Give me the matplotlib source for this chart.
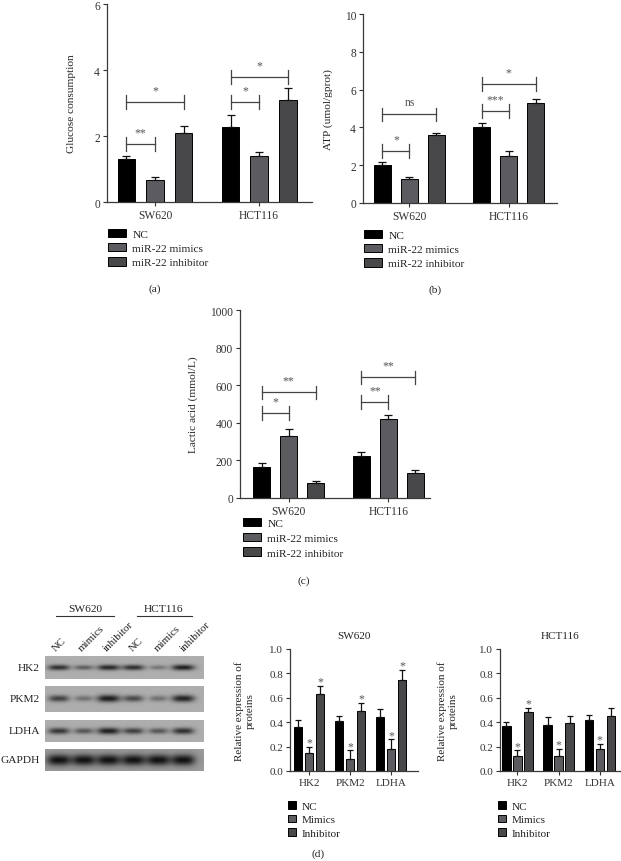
import numpy as np
import matplotlib
matplotlib.use('Agg')
import matplotlib.pyplot as plt
from matplotlib.lines import Line2D
from matplotlib.patches import Patch

# Dados
grupos = ['SW620', 'HCT116']
series_mir = ['NC', 'miR-22 mimics', 'miR-22 inhibitor']
series_prot = ['NC', 'Mimics', 'Inhibitor']
proteinas = ['HK2', 'PKM2', 'LDHA']

glicose_media = [[1.30, 0.67, 2.10], [2.28, 1.38, 3.10]]
glicose_erro = [[0.10, 0.10, 0.20], [0.35, 0.15, 0.35]]
glicose_sig = [(0, 0, 1, 1.76, '**'), (0, 0, 2, 3.03, '*'),
               (1, 0, 1, 3.03, '*'), (1, 0, 2, 3.78, '*')]

atp_media = [[2.00, 1.25, 3.58], [4.03, 2.48, 5.30]]
atp_erro = [[0.15, 0.12, 0.10], [0.20, 0.25, 0.20]]
atp_sig = [(0, 0, 1, 2.75, '*'), (0, 0, 2, 4.70, 'ns'),
           (1, 0, 1, 4.87, '***'), (1, 0, 2, 6.30, '*')]

lactico_media = [[165, 330, 80], [225, 422, 133]]
lactico_erro = [[20, 35, 10], [22, 22, 15]]
lactico_sig = [(0, 0, 1, 452, '*'), (0, 0, 2, 563, '**'),
               (1, 0, 1, 511, '**'), (1, 0, 2, 643, '**')]

# linhas = proteinas, colunas = NC, Mimics, Inhibitor
sw620_media = [[0.36, 0.15, 0.63], [0.41, 0.10, 0.49], [0.44, 0.18, 0.75]]
sw620_erro = [[0.06, 0.05, 0.07], [0.04, 0.07, 0.07], [0.07, 0.08, 0.08]]
sw620_estrela = [[False, True, True], [False, True, True], [False, True, True]]

hct116_media = [[0.37, 0.12, 0.48], [0.38, 0.12, 0.39], [0.42, 0.18, 0.45]]
hct116_erro = [[0.03, 0.05, 0.04], [0.06, 0.06, 0.06], [0.04, 0.04, 0.07]]
hct116_estrela = [[False, True, True], [False, True, False], [False, True, False]]

# Western blot: intensidade relativa das bandas (6 pistas)
blot_linhas = ['HK2', 'PKM2', 'LDHA', 'GAPDH']
blot_pistas = ['NC', 'mimics', 'inhibitor', 'NC', 'mimics', 'inhibitor']
blot_intensidade = [
    [0.80, 0.50, 0.85, 0.80, 0.35, 0.90],
    [0.70, 0.40, 0.95, 0.65, 0.40, 0.90],
    [0.75, 0.55, 0.90, 0.70, 0.55, 0.80],
    [1.00, 1.00, 1.00, 1.00, 1.00, 1.00],
]

cores = ['#000000', '#5b5b60', '#48484b']
W, H = 621, 862

plt.rcParams['font.family'] = ['Liberation Serif', 'DejaVu Serif']
plt.rcParams['text.color'] = '#222222'
plt.rcParams['axes.labelcolor'] = '#222222'
plt.rcParams['xtick.color'] = '#333333'
plt.rcParams['ytick.color'] = '#333333'

fig = plt.figure(figsize=(W / 100, H / 100), dpi=100)


def eixo_px(esq, topo, dir, base):
    # Cria um eixo a partir de coordenadas em pixels da figura
    return fig.add_axes([esq / W, 1 - base / H, (dir - esq) / W, (base - topo) / H])


def texto_px(x, y, s, **kw):
    fig.text(x / W, 1 - y / H, s, **kw)


def estilo_eixo(ax, tam):
    for lado in ['top', 'right']:
        ax.spines[lado].set_visible(False)
    for lado in ['left', 'bottom']:
        ax.spines[lado].set_color('#3a3a3a')
        ax.spines[lado].set_linewidth(0.9)
    ax.tick_params(length=3, width=0.8, labelsize=tam, pad=2)


def plotar_barras(ax, media, erro, centros, largura, capsize):
    media = np.array(media)
    erro = np.array(erro)
    for j in range(media.shape[1]):
        x = np.array(centros) + (j - 1)
        ax.bar(x, media[:, j], largura, color=cores[j], edgecolor='black', linewidth=0.7,
               yerr=[np.zeros(len(x)), erro[:, j]],
               error_kw=dict(ecolor='#111111', elinewidth=0.9, capsize=capsize, capthick=0.9),
               zorder=2)


def plotar_colchetes(ax, centros, sig, h):
    for g, i, j, y, txt in sig:
        x1 = centros[g] + (i - 1)
        x2 = centros[g] + (j - 1)
        ax.plot([x1, x2], [y, y], color='#444444', lw=0.9)
        ax.plot([x1, x1], [y - h, y + h], color='#444444', lw=0.9)
        ax.plot([x2, x2], [y - h, y + h], color='#444444', lw=0.9)
        ax.annotate(txt, ((x1 + x2) / 2, y), xytext=(0, 6.5), textcoords='offset points',
                    ha='center', va='baseline', fontsize=8.5, color='#555555')


def legenda(ax, rotulos, x, y, tam, hl, hh, esp, pad):
    alcas = [Patch(facecolor=c, edgecolor='black', linewidth=0.7) for c in cores]
    ax.legend(alcas, rotulos, loc='upper left', bbox_to_anchor=(x / W, 1 - y / H),
              bbox_transform=fig.transFigure, frameon=False, fontsize=tam,
              handlelength=hl, handleheight=hh, handletextpad=pad, labelspacing=esp,
              borderpad=0, borderaxespad=0)


def painel_mir(caixa, media, erro, sig, ymax, passo, ylabel, xlim, gap, ylab_x, leg_xy, leg_esp):
    ax = eixo_px(*caixa)
    centros = [0, gap]
    plotar_barras(ax, media, erro, centros, 0.62, 3)
    plotar_colchetes(ax, centros, sig, 0.035 * ymax)
    ax.set_xlim(*xlim)
    ax.set_ylim(0, ymax)
    ax.set_yticks(np.arange(0, ymax + passo / 2, passo))
    ax.set_xticks(centros)
    ax.set_xticklabels(grupos)
    estilo_eixo(ax, 8.3)
    ax.spines['left'].set_bounds(0, ymax)
    texto_px(ylab_x, (caixa[1] + caixa[3]) / 2, ylabel, rotation=90, ha='center', va='center', fontsize=8.2)
    legenda(ax, series_mir, leg_xy[0], leg_xy[1], 8.2, 1.55, 0.75, leg_esp, 0.6)
    return ax


def painel_prot(caixa, media, erro, estrela, titulo, xlim, ylab_x, leg_x):
    ax = eixo_px(*caixa)
    centros = [0, 3.73, 7.45]
    plotar_barras(ax, media, erro, centros, 0.77, 2)
    media = np.array(media)
    erro = np.array(erro)
    for g in range(3):
        for j in range(3):
            if estrela[g][j]:
                ax.annotate('*', (centros[g] + j - 1, media[g, j] + erro[g, j]), xytext=(0, 1),
                            textcoords='offset points', ha='center', va='baseline',
                            fontsize=8.5, color='#555555')
    ax.set_xlim(*xlim)
    ax.set_ylim(0, 1)
    ax.set_yticks(np.arange(0, 1.01, 0.2))
    ax.set_yticklabels(['%.1f' % v for v in np.arange(0, 1.01, 0.2)])
    ax.set_xticks(centros)
    ax.set_xticklabels(proteinas)
    estilo_eixo(ax, 8)
    ax.spines['left'].set_bounds(0, 1)
    ax.set_title(titulo, fontsize=8, pad=8)
    texto_px(ylab_x, 711, 'Relative expression of\nproteins', rotation=90, ha='center',
             va='center', fontsize=8, linespacing=1.25)
    legenda(ax, series_prot, leg_x, 802, 8, 0.7, 0.7, 0.35, 0.5)
    return ax


def desenhar_faixa(caixa, intensidades, meia_altura, fundo):
    ax = eixo_px(*caixa)
    largura, altura = 160, int(caixa[3] - caixa[1])
    X, Y = np.meshgrid(np.arange(largura) + 0.5, np.arange(altura) + 0.5)
    img = np.full(X.shape, fundo)
    centros = np.linspace(14, 139, 6)
    for c, a in zip(centros, intensidades):
        sx = 7 + 5 * a
        sy = meia_altura * (0.65 + 0.35 * a)
        forma = np.exp(-np.abs((X - c) / sx) ** 3) * np.exp(-((Y - altura / 2) / sy) ** 2)
        img = img - a * (fundo - 0.07) * forma
    ax.imshow(img, cmap='gray', vmin=0, vmax=1, aspect='auto', interpolation='bilinear',
              extent=[0, largura, altura, 0])
    ax.axis('off')


def painel_blot():
    faixas = [(45, 657, 204, 680), (45, 687, 204, 713), (45, 721, 204, 743), (45, 750, 204, 772)]
    meias = [3.0, 3.5, 3.5, 5.5]
    fundos = [0.68, 0.68, 0.68, 0.60]
    for caixa, nome, inten, mh, fd in zip(faixas, blot_linhas, blot_intensidade, meias, fundos):
        desenhar_faixa(caixa, inten, mh, fd)
        texto_px(40, (caixa[1] + caixa[3]) / 2, nome, ha='right', va='center', fontsize=8.2)
    # cabecalho das linhagens
    texto_px(85, 610, 'SW620', ha='center', va='center', fontsize=8.2)
    texto_px(164, 610, 'HCT116', ha='center', va='center', fontsize=8.2)
    for x1, x2 in [(56, 114), (137, 192)]:
        fig.add_artist(Line2D([x1 / W, x2 / W], [1 - 617 / H, 1 - 617 / H], color='#333333', lw=0.8))
    for k, nome in enumerate(blot_pistas):
        x = 56 + 25.5 * k
        texto_px(x, 652, nome, rotation=45, rotation_mode='anchor', ha='left', va='baseline',
                 fontsize=7.8)


def main():
    painel_mir((107, 5, 312, 203), glicose_media, glicose_erro, glicose_sig, 6, 2,
               'Glucose consumption', (-1.68, 5.5), 3.65, 72, (108, 230), 0.35)
    texto_px(155, 289, '(a)', ha='center', va='center', fontsize=8.2)

    painel_mir((363, 15, 557, 204), atp_media, atp_erro, atp_sig, 10, 2,
               'ATP (umol/gprot)', (-1.72, 5.46), 3.67, 328, (364, 231), 0.35)
    texto_px(435, 290, '(b)', ha='center', va='center', fontsize=8.2)

    painel_mir((240, 311, 430, 499), lactico_media, lactico_erro, lactico_sig, 1000, 200,
               'Lactic acid (mmol/L)', (-1.8, 5.24), 3.7, 193, (243, 519), 0.4)
    texto_px(304, 581, '(c)', ha='center', va='center', fontsize=8.2)

    painel_blot()
    painel_prot((290, 650, 418, 772), sw620_media, sw620_erro, sw620_estrela, 'SW620',
                (-1.73, 9.9), 245, 288)
    painel_prot((500, 650, 621, 772), hct116_media, hct116_erro, hct116_estrela, 'HCT116',
                (-1.57, 9.36), 448, 498)
    texto_px(318, 854, '(d)', ha='center', va='center', fontsize=8.2)

    fig.savefig('out.png', dpi=100)


if __name__ == '__main__':
    main()
